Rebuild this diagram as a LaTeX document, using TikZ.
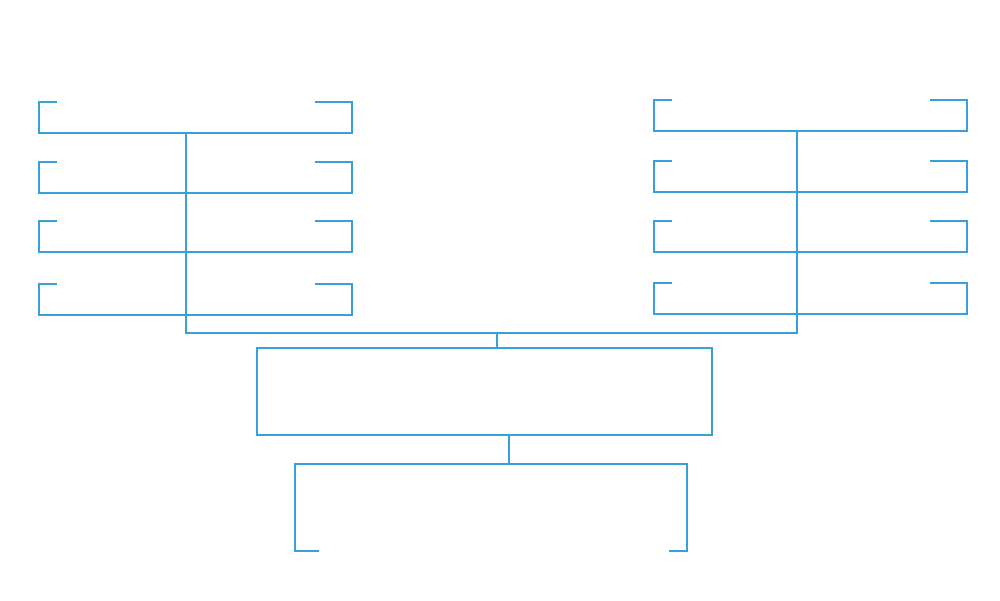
\documentclass[tikz,border=0pt]{standalone}
\definecolor{lineblue}{RGB}{55,160,218}
\tikzset{
  frame/.style={draw=none,inner sep=0pt,outer sep=0pt,rectangle},
  ln/.style={draw=lineblue,line width=2pt},
}
\newcommand{\topbrk}[3]{% name, left tick, right tick
  \draw[ln] ([xshift=#2]#1.north west) -- (#1.north west) -- (#1.south west) -- (#1.south east) -- (#1.north east) -- ([xshift=-#3]#1.north east);}
\begin{document}
\begin{tikzpicture}[x=1pt,y=-1pt]
\fill[white] (0,0) rectangle (1000,600);
\useasboundingbox (0,0) rectangle (1000,600);
% left column
\node[frame,minimum width=313pt,minimum height=31pt] (L1) at (195.5,117.5) {};
\node[frame,minimum width=313pt,minimum height=31pt] (L2) at (195.5,177.5) {};
\node[frame,minimum width=313pt,minimum height=31pt] (L3) at (195.5,236.5) {};
\node[frame,minimum width=313pt,minimum height=31pt] (L4) at (195.5,299.5) {};
% right column
\node[frame,minimum width=313pt,minimum height=31pt] (R1) at (810.5,115.5) {};
\node[frame,minimum width=313pt,minimum height=31pt] (R2) at (810.5,176.5) {};
\node[frame,minimum width=313pt,minimum height=31pt] (R3) at (810.5,236.5) {};
\node[frame,minimum width=313pt,minimum height=31pt] (R4) at (810.5,298.5) {};
\foreach \n in {L1,L2,L3,L4,R1,R2,R3,R4}{\topbrk{\n}{18pt}{37pt}}
% centre box
\node[frame,draw=lineblue,line width=2pt,minimum width=455pt,minimum height=87pt] (C) at (484.5,391.5) {};
% bottom bracket
\node[frame,minimum width=392pt,minimum height=87pt] (B) at (491,507.5) {};
\draw[ln] ([xshift=24pt]B.south west) -- (B.south west) -- (B.north west) -- (B.north east) -- (B.south east) -- ([xshift=-18pt]B.south east);
% connectors
\coordinate (lj) at (186,333);
\coordinate (rj) at (797,333);
\coordinate (cj) at (497,333);
\draw[ln] (L1.south -| lj) -- (lj) -- (rj) -- (R1.south -| rj);
\draw[ln] (cj) -- (cj |- C.north);
\coordinate (bj) at (509,464);
\draw[ln] (bj |- C.south) -- (bj |- B.north);
\end{tikzpicture}
\end{document}
